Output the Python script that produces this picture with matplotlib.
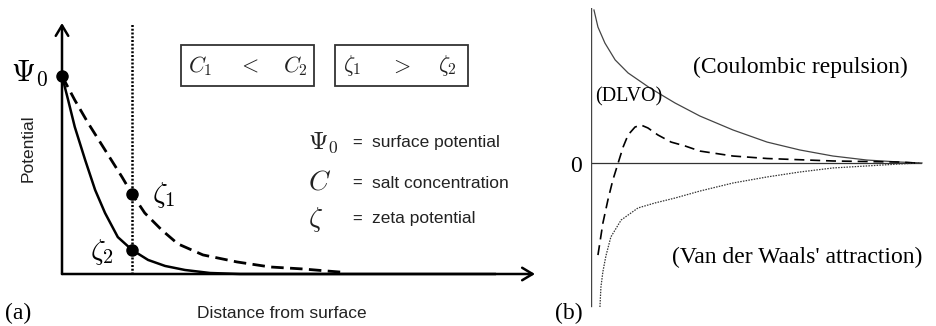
import matplotlib as mpl
mpl.use('Agg')
import matplotlib.pyplot as plt
from matplotlib.patches import Rectangle

plt.rcParams['mathtext.fontset'] = 'cm'
plt.rcParams['font.family'] = 'Liberation Sans'

# (a) potential against distance from the surface, two salt concentrations
dist_c1 = [0, 0.27, 0.55, 0.91, 1.27, 1.48, 1.75, 2.11, 2.45, 2.98, 3.70, 4.40, 5.10, 5.60, 6.0]
pot_c1 = [0.789, 0.693, 0.602, 0.494, 0.386, 0.319, 0.243, 0.175, 0.120, 0.076, 0.048, 0.028, 0.020, 0.012, 0.006]
dist_c2 = [0, 0.13, 0.27, 0.49, 0.70, 0.91, 1.18, 1.48, 1.82, 2.18, 2.60, 3.13, 3.76, 9.15]
pot_c2 = [0.789, 0.693, 0.586, 0.454, 0.335, 0.243, 0.147, 0.096, 0.056, 0.032, 0.016, 0.004, 0, 0]
shear_plane = 1.48
psi0 = 0.789
zeta1 = 0.319
zeta2 = 0.096

# (b) interaction energy against separation
coul_x = [0.09, 0.21, 0.42, 0.73, 1.12, 1.78, 2.54, 3.29, 4.29, 5.32, 6.31, 7.31, 8.34, 9.34, 10.0]
coul_y = [0.987, 0.877, 0.774, 0.665, 0.581, 0.484, 0.387, 0.303, 0.213, 0.135, 0.084, 0.045, 0.019, 0.006, 0.0]
dlvo_x = [0.21, 0.36, 0.51, 0.66, 0.82, 0.97, 1.12, 1.33, 1.51, 1.72, 2.02, 2.42, 2.84, 3.29, 4.29, 5.32, 7.31, 9.34, 9.79]
dlvo_y = [-0.594, -0.387, -0.239, -0.110, 0.0, 0.103, 0.181, 0.232, 0.245, 0.226, 0.181, 0.135, 0.110, 0.077, 0.045, 0.029, 0.013, 0.006, 0.0]
vdw_x = [0.27, 0.30, 0.36, 0.45, 0.60, 0.91, 1.42, 1.93, 2.54, 3.29, 4.29, 5.32, 6.31, 7.31, 8.34, 9.34, 9.94]
vdw_y = [-0.929, -0.800, -0.700, -0.600, -0.477, -0.368, -0.290, -0.258, -0.226, -0.181, -0.129, -0.090, -0.058, -0.032, -0.019, -0.006, 0.0]

W, H = 937, 326
fig = plt.figure(figsize=(W / 100, H / 100), dpi=100)

def px_axes(x0, x1, ytop, ybot):
    return fig.add_axes([x0 / W, (H - ybot) / H, (x1 - x0) / W, (ybot - ytop) / H])

# ---- panel (a)
ax = px_axes(62, 535, 23, 274)
ax.set_xlim(0, 10)
ax.set_ylim(0, 1)
ax.set_axis_off()
arrow = dict(arrowstyle='->,head_length=0.5,head_width=0.3', lw=1.8, color='k',
             mutation_scale=15, shrinkA=0, shrinkB=0)
ax.annotate('', xy=(0, 1), xytext=(0, 0), arrowprops=arrow, annotation_clip=False)
ax.annotate('', xy=(10, 0), xytext=(0, 0), arrowprops=arrow, annotation_clip=False)
ax.plot([shear_plane, shear_plane], [0, 1], color='k', lw=1.8,
        linestyle=(0, (0.8, 0.7)), clip_on=False)
ax.plot(dist_c1, pot_c1, color='k', lw=2.0, linestyle=(0, (4.5, 2.3)), clip_on=False)
ax.plot(dist_c2, pot_c2, color='k', lw=1.8, clip_on=False)
ax.plot([0, shear_plane, shear_plane], [psi0, zeta1, zeta2], 'o', color='k', ms=8,
        clip_on=False, zorder=5)

# ---- panel (b)
bx = px_axes(591, 922, 8, 318)
bx.set_xlim(0, 10)
bx.set_ylim(-1, 1)
bx.set_axis_off()
bx.axhline(0, color='#333333', lw=0.9)
bx.axvline(0, ymin=0.04, ymax=1.0, color='#444444', lw=1.0)
bx.plot(coul_x, coul_y, color='#444444', lw=0.9, clip_on=False)
bx.plot(dlvo_x, dlvo_y, color='k', lw=1.2, linestyle=(0, (6, 3.5)), clip_on=False)
bx.plot(vdw_x, vdw_y, color='#333333', lw=0.9, linestyle=(0, (1.2, 1.0)), clip_on=False)

# ---- labels, boxes and legend text (pixel layout)
ov = fig.add_axes([0, 0, 1, 1])
ov.set_xlim(0, W)
ov.set_ylim(H, 0)
ov.set_axis_off()

ov.text(48, 73, r'$\Psi_0$', fontsize=22, ha='right', va='center')
ov.text(28, 148, 'Potential', fontsize=12.5, rotation=90, ha='center', va='center', color='#222222')
ov.text(152, 195, r'$\zeta_1$', fontsize=21, ha='left', va='center')
ov.text(114, 252, r'$\zeta_2$', fontsize=21, ha='right', va='center')

for x0 in (181, 335):
    ov.add_patch(Rectangle((x0, 45), 133, 41, fill=False, lw=1.3, ec='#333333'))
for x, s in [(200, r'$C_1$'), (249, r'$<$'), (295, r'$C_2$'),
             (352, r'$\zeta_1$'), (401, r'$>$'), (447, r'$\zeta_2$')]:
    ov.text(x, 66, s, fontsize=16, ha='center', va='center', color='#222222')

legend_rows = [(143, r'$\Psi_0$', 18, 'surface potential'),
               (183, r'$C$', 20, 'salt concentration'),
               (219, r'$\zeta$', 20, 'zeta potential')]
for y, sym, fs, desc in legend_rows:
    ov.text(308, y, sym, fontsize=fs, ha='left', va='center', color='#222222')
    ov.text(352, y, '=', fontsize=12, ha='left', va='center', color='#222222')
    ov.text(372, y, desc, fontsize=12.5, ha='left', va='center', color='#222222')

ov.text(282, 313, 'Distance from surface', fontsize=12.5, ha='center', va='center', color='#222222')

serif = 'Liberation Serif'
ov.text(5, 313, '(a)', fontsize=17, family=serif, ha='left', va='center')
ov.text(555, 313, '(b)', fontsize=17, family=serif, ha='left', va='center')
ov.text(576, 166, '0', fontsize=17, family=serif, ha='center', va='center')
ov.text(800, 67, '(Coulombic repulsion)', fontsize=17, family=serif, ha='center', va='center')
ov.text(629, 97, '(DLVO)', fontsize=14.5, family=serif, ha='center', va='center')
ov.text(797, 257, "(Van der Waals' attraction)", fontsize=17, family=serif, ha='center', va='center')

fig.savefig('out.png', dpi=100)
